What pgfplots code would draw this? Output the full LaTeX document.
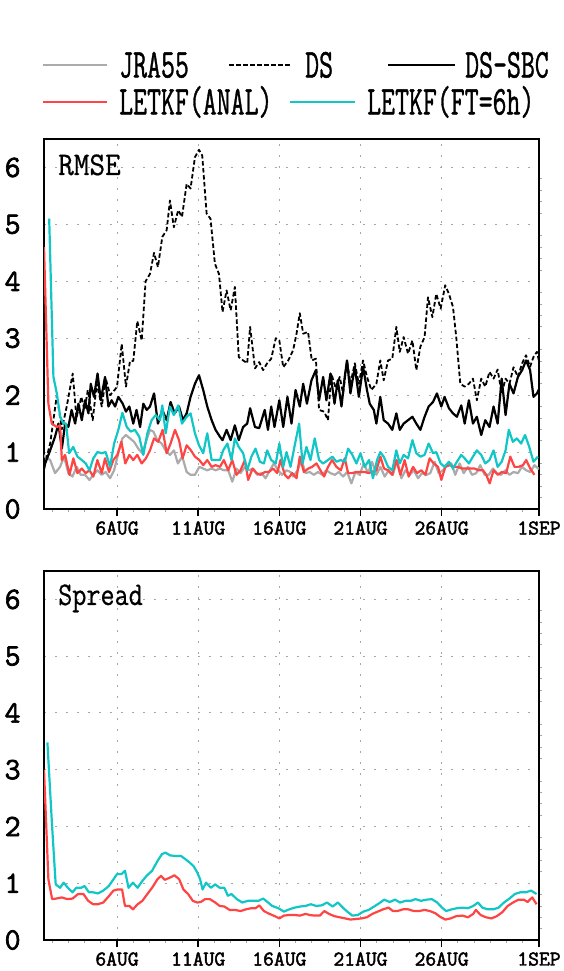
\documentclass[border=0pt]{standalone}
\usepackage{graphicx}
\usepackage{fontspec}
\usepackage{pgfplots}
\pgfplotsset{compat=1.18}
\newfontfamily\tkfont{Latin Modern Mono}[FakeBold=2.2]
\newfontfamily\lgfont{Latin Modern Mono}[FakeBold=1.2]
\newfontfamily\pnfont{Latin Modern Mono}[FakeBold=0.6]
\definecolor{jragray}{HTML}{ABABAB}
\definecolor{letred}{HTML}{FF4444}
\definecolor{letcyan}{HTML}{11C6C6}
\newcommand{\lgt}[1]{\scalebox{0.66}[1]{\fontsize{41}{41}\selectfont\lgfont #1}}
\newcommand{\pnl}[2]{\scalebox{#1}[1]{\fontsize{33}{33}\selectfont\pnfont #2}}

\pgfplotsset{
  panel/.style={
    scale only axis, width=495pt, anchor=south west,
    xmin=0.5, xmax=31, ymin=0, ymax=6.5,
    every axis/.append style={line width=2.8pt},
    axis line style={line width=2.8pt},
    xtick={5,10,15,20,25,31},
    xticklabels={6AUG,11AUG,16AUG,21AUG,26AUG,1SEP},
    minor xtick={1,...,30},
    ytick={0,1,2,3,4,5,6},
    minor y tick num=4,
    xtick pos=bottom, ytick pos=right,
    tick align=outside,
    major tick length=7pt, minor tick length=3pt,
    x tick style={black, line width=1.6pt},
    y tick style={draw=none},
    minor x tick style={gray!70, line width=0.8pt},
    minor y tick style={draw=gray!70, line width=0.8pt},
    grid=major,
    major grid style={gray!70, line width=0.9pt, dash pattern=on 2pt off 9pt},
    /pgf/number format/assume math mode=true,
    xticklabel style={font=\fontsize{21}{21}\selectfont\tkfont, anchor=north, inner sep=0pt, yshift=-4pt},
    yticklabel pos=left,
    yticklabel style={font=\fontsize{31}{31}\selectfont\tkfont, anchor=east, inner sep=0pt, xshift=-15pt},
    every axis plot/.append style={line width=2.2pt, line join=round},
  }
}

\begin{document}
\begin{tikzpicture}
\useasboundingbox (0,0) rectangle (563pt,971pt);

% legend
\draw[jragray, line width=2.5pt] (43pt,906pt) -- (107pt,906pt);
\node[anchor=base west, inner sep=0pt] at (119pt,893.5pt) {\lgt{JRA55}};
\draw[black, line width=1.8pt, dash pattern=on 4.5pt off 2.5pt] (229pt,906pt) -- (292pt,906pt);
\node[anchor=base west, inner sep=0pt] at (305pt,893.5pt) {\lgt{DS}};
\draw[black, line width=2.5pt] (388pt,906pt) -- (455pt,906pt);
\node[anchor=base west, inner sep=0pt] at (465pt,893.5pt) {\lgt{DS-SBC}};
\draw[letred, line width=2.5pt] (43pt,869pt) -- (107pt,869pt);
\node[anchor=base west, inner sep=0pt] at (119pt,856.5pt) {\lgt{LETKF(ANAL)}};
\draw[letcyan, line width=2.5pt] (290pt,869pt) -- (355pt,869pt);
\node[anchor=base west, inner sep=0pt] at (367pt,856.5pt) {\lgt{LETKF(FT=6h)}};

% RMSE panel
\begin{axis}[panel, at={(44pt,462pt)}, height=370pt]
\addplot[jragray] coordinates {(0.5,0.95)(0.57,0.92)(0.88,0.86)(1.18,0.63)(1.49,0.74)(1.74,0.92)(2.0,0.63)(2.25,0.57)(2.52,0.74)(2.76,0.6)(3.03,0.6)(3.3,0.51)(3.54,0.6)(3.79,0.68)(4.06,0.6)(4.3,0.65)(4.57,0.54)(4.82,0.68)(5.08,0.98)(5.33,1.24)(5.55,1.3)(5.8,1.24)(6.05,1.18)(6.31,1.06)(6.56,0.98)(6.78,1.18)(7.03,1.39)(7.24,1.36)(7.48,1.21)(7.75,1.15)(7.99,1.03)(8.26,0.95)(8.51,1.03)(8.75,0.8)(9.02,0.92)(9.29,0.65)(9.53,0.6)(9.8,0.6)(10.07,0.74)(10.31,0.71)(10.56,0.68)(10.83,0.71)(11.07,0.68)(11.34,0.71)(11.58,0.68)(11.85,0.68)(12.1,0.48)(12.36,0.71)(12.61,0.63)(12.88,0.74)(13.12,0.68)(13.39,0.71)(13.64,0.6)(13.9,0.63)(14.15,0.54)(14.42,0.68)(14.66,0.8)(14.93,0.68)(15.17,0.6)(15.44,0.68)(15.69,0.65)(15.85,0.57)(16.12,0.68)(16.37,0.86)(16.61,0.63)(16.88,0.65)(17.12,0.6)(17.39,0.65)(17.64,0.6)(17.9,0.68)(18.15,0.63)(18.42,0.6)(18.66,0.65)(18.93,0.57)(19.18,0.65)(19.44,0.45)(19.69,0.65)(19.95,0.6)(20.2,0.8)(20.47,0.63)(20.71,0.83)(20.98,0.6)(21.23,0.74)(21.49,0.57)(21.74,0.68)(22.0,0.6)(22.25,0.86)(22.52,0.54)(22.77,0.68)(23.03,0.6)(23.28,0.68)(23.55,0.54)(23.79,0.63)(24.06,0.6)(24.3,0.63)(24.57,0.83)(24.82,0.63)(25.08,0.68)(25.33,0.77)(25.6,0.8)(25.84,0.6)(26.11,0.8)(26.36,0.63)(26.62,0.74)(26.87,0.6)(27.13,0.63)(27.38,0.77)(27.65,0.6)(27.9,0.6)(28.16,0.71)(28.41,0.63)(28.67,0.6)(28.92,0.68)(29.18,0.6)(29.43,0.65)(29.7,0.63)(29.95,0.74)(30.21,0.68)(30.46,0.65)(30.72,0.77)(31,0.7)};
\addplot[black, line width=1.8pt, dash pattern=on 4.5pt off 2.5pt] coordinates {(0.5,0.75)(0.57,0.8)(0.88,1.15)(1.29,2.0)(1.6,1.4)(1.9,1.8)(2.27,2.38)(2.5,1.6)(2.8,1.97)(3.0,1.74)(3.2,2.09)(3.5,1.56)(3.75,2.2)(4.06,1.8)(4.3,2.3)(4.57,2.0)(4.88,2.1)(5.0,2.15)(5.29,2.9)(5.55,2.15)(5.8,2.6)(6.0,2.6)(6.25,3.3)(6.52,2.96)(6.76,4.0)(7.03,4.13)(7.28,4.5)(7.52,4.25)(7.79,4.78)(8.06,4.9)(8.26,5.42)(8.5,4.95)(8.77,5.25)(9.0,5.13)(9.29,5.71)(9.53,5.63)(9.8,6.18)(10.05,6.31)(10.25,6.21)(10.52,5.19)(10.76,5.1)(11.03,4.31)(11.28,4.13)(11.5,3.46)(11.75,3.84)(12.0,3.49)(12.26,3.9)(12.5,2.67)(12.77,2.61)(13.02,2.56)(13.2,3.2)(13.5,2.47)(13.76,2.58)(14.0,2.44)(14.25,2.56)(14.5,2.64)(14.78,3.0)(15.0,2.96)(15.24,2.49)(15.55,2.61)(15.85,2.79)(16.06,3.08)(16.26,3.44)(16.47,3.08)(16.77,3.11)(17.0,2.61)(17.25,2.64)(17.45,1.74)(17.76,1.71)(18.0,1.56)(18.2,2.38)(18.48,2.12)(18.72,2.32)(18.93,2.03)(19.17,2.61)(19.38,2.2)(19.65,2.56)(19.9,2.2)(20.16,2.61)(20.4,2.32)(20.67,2.09)(20.98,2.2)(21.22,2.61)(21.43,2.26)(21.7,2.61)(21.96,2.64)(22.21,3.2)(22.42,2.76)(22.66,3.02)(22.93,2.73)(23.2,2.96)(23.44,2.44)(23.69,2.85)(23.95,3.02)(24.16,3.72)(24.43,3.37)(24.67,3.78)(24.94,3.52)(25.22,3.93)(25.45,3.78)(25.7,3.55)(25.9,3.02)(26.15,2.2)(26.42,2.15)(26.68,2.2)(26.93,2.29)(27.17,1.91)(27.44,2.29)(27.69,2.15)(27.95,2.41)(28.2,2.29)(28.45,2.45)(28.7,2.03)(28.94,2.29)(29.18,2.2)(29.43,2.49)(29.7,2.32)(29.96,2.56)(30.2,2.7)(30.45,2.5)(30.66,2.67)(30.87,2.76)(31,2.6)};
\addplot[black] coordinates {(0.5,0.7)(0.57,0.8)(0.88,1.03)(1.18,1.27)(1.39,1.5)(1.6,1.06)(1.8,1.5)(2.0,1.44)(2.2,1.74)(2.42,1.5)(2.62,1.85)(2.83,1.56)(3.03,1.91)(3.24,1.68)(3.38,2.2)(3.58,1.97)(3.8,2.38)(4.0,1.91)(4.26,2.32)(4.47,1.8)(4.67,1.91)(4.88,1.8)(5.08,1.97)(5.35,1.85)(5.55,1.71)(5.76,1.8)(6.0,1.5)(6.2,1.74)(6.42,1.44)(6.62,1.85)(6.83,1.74)(7.03,1.8)(7.28,2.03)(7.52,1.5)(7.79,1.74)(8.06,1.56)(8.3,1.88)(8.55,1.68)(8.82,1.8)(9.06,1.56)(9.29,1.68)(9.53,1.97)(9.8,2.2)(10.05,2.35)(10.31,2.09)(10.56,1.8)(10.83,1.56)(11.07,1.39)(11.34,1.27)(11.5,1.21)(11.75,1.39)(12.0,1.21)(12.26,1.47)(12.5,1.21)(12.77,1.44)(13.02,1.5)(13.2,1.77)(13.5,1.44)(13.76,1.42)(14.1,1.74)(14.3,1.39)(14.5,1.8)(14.7,1.44)(15.0,1.91)(15.24,1.44)(15.5,1.97)(15.75,1.5)(16.0,2.09)(16.26,1.8)(16.47,2.2)(16.7,1.85)(16.98,2.26)(17.25,2.44)(17.45,1.91)(17.7,2.32)(17.9,1.91)(18.15,2.38)(18.4,1.85)(18.6,2.26)(18.83,1.8)(19.03,2.32)(19.17,2.61)(19.38,2.03)(19.65,2.5)(19.9,1.97)(20.16,2.5)(20.4,2.09)(20.57,1.85)(20.82,1.74)(20.98,1.5)(21.22,1.97)(21.43,1.56)(21.7,1.5)(21.96,1.39)(22.21,1.68)(22.42,1.39)(22.66,1.5)(22.93,1.56)(23.2,1.62)(23.44,1.5)(23.69,1.39)(23.95,1.62)(24.2,1.8)(24.47,1.88)(24.71,2.03)(24.98,1.8)(25.18,1.97)(25.45,1.77)(25.7,1.68)(25.94,1.62)(26.21,1.82)(26.42,1.5)(26.68,1.91)(26.93,1.5)(27.17,1.62)(27.44,1.3)(27.69,1.56)(27.95,1.44)(28.2,1.8)(28.45,1.5)(28.7,2.29)(28.94,1.65)(29.18,2.2)(29.43,2.03)(29.7,2.32)(29.96,2.44)(30.2,2.61)(30.45,2.44)(30.66,1.97)(30.87,2.03)(31,2.1)};
\addplot[letred] coordinates {(0.5,4.6)(0.77,1.85)(0.98,1.5)(1.29,1.44)(1.49,1.47)(1.6,0.86)(1.8,0.95)(2.07,0.6)(2.31,0.89)(2.56,0.63)(2.83,0.71)(3.07,0.63)(3.3,0.68)(3.54,0.57)(3.79,0.86)(4.06,0.63)(4.26,0.89)(4.51,0.65)(4.77,0.86)(5.02,0.95)(5.27,1.18)(5.51,0.8)(5.76,0.95)(6.0,0.86)(6.25,0.95)(6.52,0.8)(6.78,0.89)(7.03,1.03)(7.28,1.24)(7.54,1.18)(7.81,1.39)(8.06,0.98)(8.3,1.15)(8.57,1.39)(8.82,1.21)(9.04,0.89)(9.29,1.12)(9.55,1.03)(9.8,0.92)(10.07,0.86)(10.31,0.77)(10.56,0.86)(10.83,0.74)(11.07,0.77)(11.34,0.74)(11.58,0.86)(11.85,0.68)(12.1,0.86)(12.36,0.6)(12.61,0.68)(12.88,0.86)(13.08,0.51)(13.35,0.71)(13.6,0.63)(13.84,0.6)(14.11,0.65)(14.35,0.65)(14.62,0.71)(14.87,0.63)(15.07,0.86)(15.34,0.6)(15.55,0.54)(15.8,0.63)(16.06,0.54)(16.26,0.92)(16.51,0.65)(16.78,0.71)(17.02,0.74)(17.29,0.8)(17.53,0.68)(17.76,0.57)(18.0,0.74)(18.25,0.86)(18.52,0.74)(18.79,0.68)(19.03,0.89)(19.24,0.63)(19.48,0.63)(19.75,0.65)(20.0,0.65)(20.26,0.65)(20.51,0.63)(20.98,0.68)(21.23,0.92)(21.45,0.71)(21.7,0.68)(21.95,0.6)(22.21,0.86)(22.46,0.6)(22.72,0.86)(22.97,0.57)(23.24,0.74)(23.48,0.63)(23.75,0.68)(24.0,0.6)(24.26,0.89)(24.51,0.8)(24.78,0.74)(24.98,0.51)(25.23,0.74)(25.5,0.77)(25.74,0.74)(26.0,0.74)(26.25,0.71)(26.52,0.71)(26.77,0.71)(27.03,0.71)(27.28,0.68)(27.55,0.68)(27.75,0.6)(27.96,0.45)(28.2,0.68)(28.47,0.6)(28.71,0.65)(28.98,0.63)(29.23,0.92)(29.49,0.74)(29.74,0.74)(30.01,0.77)(30.21,0.86)(30.46,0.71)(30.72,0.6)};
\addplot[letcyan] coordinates {(0.82,5.1)(1.08,2.32)(1.29,2.03)(1.5,1.62)(1.7,1.5)(1.86,1.5)(2.05,0.98)(2.3,1.09)(2.56,0.92)(2.83,0.86)(3.07,0.8)(3.3,0.68)(3.54,0.89)(3.79,1.0)(4.06,0.98)(4.3,1.0)(4.57,0.74)(4.82,1.15)(5.08,1.39)(5.33,1.69)(5.6,1.44)(5.84,1.36)(6.1,1.39)(6.37,1.27)(6.62,0.95)(6.87,1.33)(7.13,1.56)(7.38,1.65)(7.65,1.56)(7.79,1.82)(8.0,1.33)(8.26,1.8)(8.5,1.65)(8.77,1.82)(9.0,1.5)(9.29,1.62)(9.53,1.68)(9.8,1.33)(10.05,1.12)(10.31,0.98)(10.56,1.33)(10.83,0.86)(11.07,0.86)(11.34,0.86)(11.54,1.03)(11.8,1.15)(12.05,0.86)(12.26,1.24)(12.5,1.09)(12.77,0.98)(13.02,0.68)(13.28,0.92)(13.53,1.06)(13.8,0.83)(14.05,0.8)(14.25,1.03)(14.5,0.86)(14.78,0.8)(15.0,1.15)(15.24,0.74)(15.44,1.0)(15.69,0.74)(15.95,1.12)(16.22,1.5)(16.43,0.8)(16.67,1.09)(16.92,0.86)(17.18,1.24)(17.45,0.86)(17.7,0.8)(18.0,0.86)(18.27,0.92)(18.52,0.83)(18.77,0.86)(19.03,0.83)(19.24,1.06)(19.5,0.95)(19.75,0.8)(20.0,0.98)(20.26,0.74)(20.53,0.86)(20.77,0.54)(21.02,0.86)(21.22,1.0)(21.43,0.92)(21.7,0.74)(21.96,0.68)(22.21,1.03)(22.42,0.8)(22.66,0.95)(22.93,0.89)(23.2,1.21)(23.44,0.98)(23.69,0.92)(23.95,0.95)(24.2,1.15)(24.47,0.98)(24.67,1.0)(24.94,0.8)(25.18,0.74)(25.45,0.83)(25.7,0.71)(25.94,0.83)(26.21,0.95)(26.42,0.89)(26.68,0.8)(26.93,0.92)(27.17,1.03)(27.44,0.95)(27.69,0.8)(27.95,0.86)(28.2,1.03)(28.45,0.74)(28.7,0.83)(28.94,1.03)(29.14,1.39)(29.39,1.18)(29.63,1.24)(29.9,1.15)(30.14,1.3)(30.4,1.09)(30.66,0.83)(30.93,0.92)};
\end{axis}
\node[anchor=base west, inner sep=0pt] at (58pt,796pt) {\pnl{0.92}{RMSE}};

% Spread panel
\begin{axis}[panel, at={(44pt,31pt)}, height=369pt]
\addplot[letred] coordinates {(0.5,3.0)(0.77,1.07)(1.0,0.72)(1.26,0.73)(1.6,0.75)(1.93,0.72)(2.26,0.73)(2.6,0.81)(2.93,0.81)(3.22,0.69)(3.53,0.63)(3.82,0.63)(4.15,0.66)(4.49,0.77)(4.78,0.87)(5.04,0.89)(5.31,0.89)(5.49,0.6)(5.76,0.6)(5.98,0.54)(6.27,0.63)(6.56,0.69)(6.87,0.81)(7.16,0.92)(7.49,1.07)(7.71,1.13)(7.94,1.06)(8.27,1.1)(8.54,1.14)(8.83,1.07)(9.09,0.89)(9.38,0.81)(9.67,0.69)(9.94,0.66)(10.16,0.67)(10.43,0.72)(10.72,0.72)(11.05,0.66)(11.32,0.6)(11.61,0.59)(11.94,0.53)(12.27,0.53)(12.61,0.51)(12.94,0.54)(13.27,0.56)(13.54,0.56)(13.76,0.61)(14.05,0.51)(14.39,0.46)(14.72,0.42)(15.0,0.38)(15.28,0.43)(15.61,0.44)(15.94,0.44)(16.28,0.43)(16.61,0.46)(16.88,0.44)(17.17,0.43)(17.5,0.43)(17.77,0.51)(18.06,0.46)(18.39,0.42)(18.72,0.4)(19.06,0.38)(19.39,0.36)(19.72,0.37)(20.06,0.38)(20.39,0.4)(20.73,0.46)(21.06,0.5)(21.39,0.54)(21.73,0.57)(22.0,0.51)(22.28,0.51)(22.62,0.54)(22.95,0.54)(23.28,0.51)(23.62,0.51)(23.95,0.53)(24.28,0.51)(24.62,0.47)(24.95,0.4)(25.24,0.36)(25.55,0.38)(25.9,0.42)(26.29,0.43)(26.62,0.4)(26.95,0.46)(27.11,0.53)(27.4,0.44)(27.73,0.4)(28.07,0.38)(28.4,0.42)(28.74,0.49)(29.07,0.6)(29.4,0.66)(29.73,0.71)(30.07,0.71)(30.29,0.67)(30.58,0.75)(30.85,0.63)};
\addplot[letcyan] coordinates {(0.71,3.48)(1.0,2.0)(1.22,0.98)(1.49,0.92)(1.71,1.01)(1.97,0.92)(2.26,0.84)(2.49,0.92)(2.78,0.92)(3.0,0.95)(3.27,0.84)(3.53,0.84)(3.82,0.82)(4.15,0.87)(4.49,0.95)(4.71,1.04)(5.0,1.16)(5.27,1.16)(5.49,1.22)(5.71,0.92)(5.98,1.01)(6.27,0.92)(6.56,1.04)(6.82,1.13)(7.16,1.22)(7.49,1.39)(7.76,1.51)(7.98,1.54)(8.27,1.49)(8.6,1.48)(8.94,1.48)(9.23,1.42)(9.49,1.36)(9.72,1.3)(9.94,1.19)(10.12,1.07)(10.27,0.89)(10.49,1.01)(10.78,0.92)(11.05,0.98)(11.32,0.92)(11.61,0.92)(11.83,0.78)(12.05,0.81)(12.38,0.72)(12.72,0.66)(13.05,0.69)(13.38,0.69)(13.72,0.69)(14.0,0.73)(14.27,0.67)(14.56,0.6)(14.94,0.56)(15.28,0.5)(15.61,0.54)(15.94,0.57)(16.28,0.59)(16.61,0.6)(16.94,0.63)(17.28,0.6)(17.61,0.61)(17.94,0.66)(18.28,0.59)(18.61,0.66)(18.95,0.56)(19.23,0.49)(19.5,0.43)(19.84,0.44)(20.17,0.5)(20.5,0.53)(20.84,0.59)(21.17,0.65)(21.46,0.71)(21.8,0.67)(22.13,0.71)(22.44,0.66)(22.77,0.69)(23.1,0.69)(23.39,0.72)(23.73,0.69)(24.06,0.71)(24.39,0.72)(24.73,0.66)(25.02,0.57)(25.28,0.51)(25.62,0.54)(25.95,0.56)(26.29,0.57)(26.62,0.56)(26.95,0.6)(27.24,0.66)(27.51,0.57)(27.84,0.54)(28.18,0.54)(28.51,0.57)(28.84,0.66)(29.18,0.73)(29.51,0.81)(29.84,0.84)(30.18,0.84)(30.51,0.87)(30.85,0.81)};
\end{axis}
\node[anchor=base west, inner sep=0pt] at (58pt,366pt) {\pnl{0.83}{Spread}};
\end{tikzpicture}
\end{document}
